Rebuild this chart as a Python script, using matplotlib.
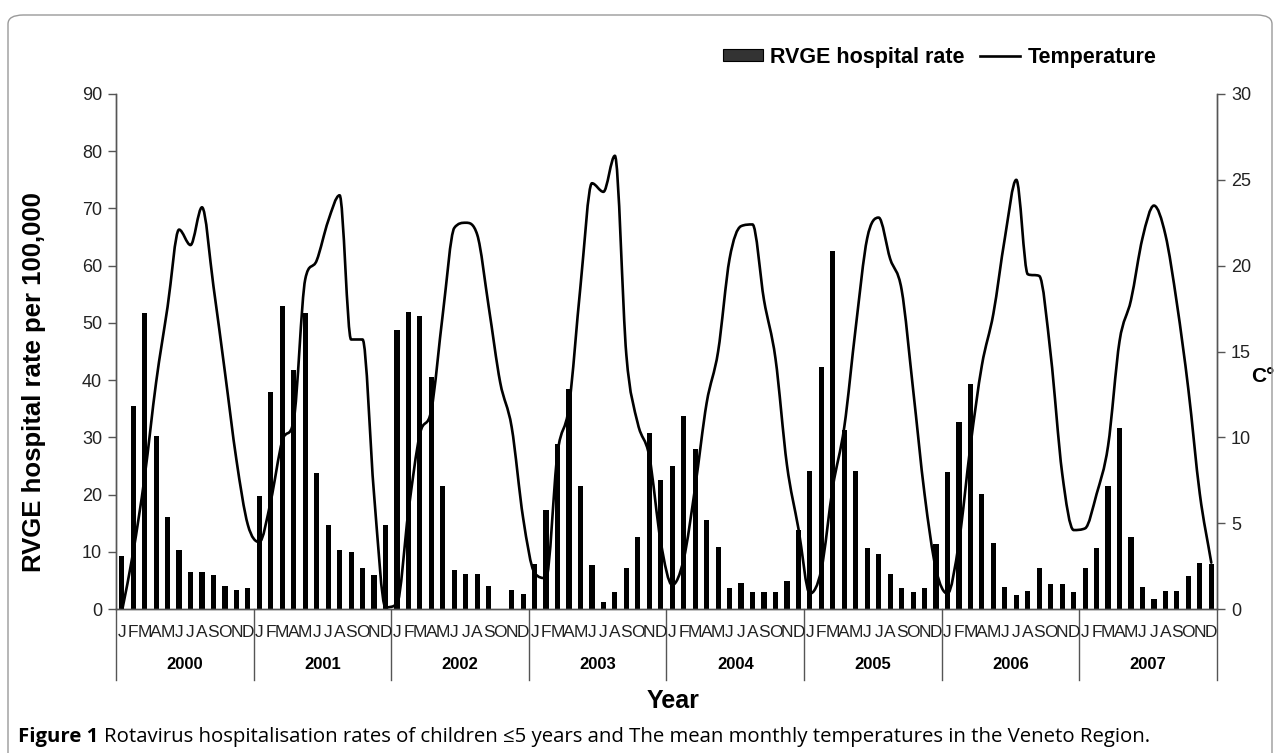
import numpy as np
import matplotlib.pyplot as plt
from matplotlib.path import Path
from matplotlib.patches import PathPatch, Patch, FancyBboxPatch
from matplotlib.lines import Line2D
from matplotlib.transforms import blended_transform_factory

plt.rcParams['font.family'] = ['Liberation Sans', 'DejaVu Sans']

years = ['2000', '2001', '2002', '2003', '2004', '2005', '2006', '2007']
months = ['J', 'F', 'M', 'A', 'M', 'J', 'J', 'A', 'S', 'O', 'N', 'D']

# RVGE hospital rate per 100,000 (monthly, 2000-2007)
rate_2000 = [9.2, 35.4, 51.7, 30.2, 16.1, 10.4, 6.5, 6.5, 6.0, 4.0, 3.3, 3.7]
rate_2001 = [19.8, 37.9, 53.0, 41.8, 51.7, 23.8, 14.6, 10.4, 9.9, 7.2, 6.0, 14.6]
rate_2002 = [48.7, 51.9, 51.2, 40.6, 21.5, 6.9, 6.2, 6.2, 4.0, 0.0, 3.3, 2.7]
rate_2003 = [7.9, 17.3, 28.8, 38.4, 21.5, 7.7, 1.3, 3.0, 7.2, 12.6, 30.7, 22.5]
rate_2004 = [25.0, 33.7, 28.0, 15.6, 10.9, 3.7, 4.5, 3.0, 3.0, 3.0, 4.9, 13.8]
rate_2005 = [24.2, 42.3, 62.6, 31.2, 24.2, 10.6, 9.7, 6.2, 3.7, 3.0, 3.7, 11.4]
rate_2006 = [24.0, 32.6, 39.3, 20.1, 11.6, 3.9, 2.4, 3.2, 7.1, 4.4, 4.4, 2.9]
rate_2007 = [7.1, 10.6, 21.5, 31.7, 12.6, 3.9, 1.7, 3.2, 3.2, 5.7, 8.1, 7.9]

# mean monthly temperature (C°)
temp_2000 = [-0.2, 3.3, 7.7, 13.2, 17.6, 22.1, 21.2, 23.4, 18.8, 13.8, 8.7, 4.9]
temp_2001 = [3.9, 6.3, 9.8, 11.0, 19.2, 20.3, 22.6, 24.1, 15.7, 15.7, 6.7, 0.1]
temp_2002 = [0.3, 5.7, 10.2, 11.6, 17.2, 22.2, 22.5, 21.8, 17.6, 13.2, 10.6, 5.3]
temp_2003 = [2.1, 1.8, 9.1, 11.8, 18.8, 24.8, 24.3, 26.4, 14.8, 10.8, 8.9, 3.9]
temp_2004 = [1.4, 2.9, 7.1, 12.0, 15.0, 20.4, 22.3, 22.4, 18.0, 14.6, 8.4, 4.7]
temp_2005 = [0.9, 2.3, 7.1, 10.6, 16.4, 21.6, 22.8, 20.4, 18.6, 12.8, 6.7, 2.3]
temp_2006 = [0.9, 3.9, 9.5, 14.2, 17.2, 21.6, 25.0, 19.5, 19.4, 14.8, 7.9, 4.6]
temp_2007 = [4.7, 6.7, 9.5, 15.6, 18.0, 21.6, 23.5, 21.8, 17.8, 12.8, 6.7, 2.7]

rate = np.array(rate_2000 + rate_2001 + rate_2002 + rate_2003 +
                rate_2004 + rate_2005 + rate_2006 + rate_2007)
temp = np.array(temp_2000 + temp_2001 + temp_2002 + temp_2003 +
                temp_2004 + temp_2005 + temp_2006 + temp_2007)

n = len(rate)
x = np.arange(n) + 0.5

fig = plt.figure(figsize=(12.8, 7.53), dpi=100)
ax = fig.add_axes([0.0906, 0.1912, 0.8602, 0.684])
ax2 = ax.twinx()

# bars
ax.bar(x, rate, width=0.45, color='black', zorder=2)
ax.set_xlim(0, n)
ax.set_ylim(0, 90)
ax.set_yticks(np.arange(0, 91, 10))
ax.set_xticks([])

# smoothed temperature line: cubic Bezier through the monthly points,
# tangents limited so flat stretches stay flat (no overshoot)
d = np.diff(temp)
m = np.zeros(n)
m[0], m[-1] = d[0], d[-1]
for i in range(1, n - 1):
    if d[i - 1] * d[i] > 0:
        m[i] = np.sign(d[i]) * min(abs(d[i - 1] + d[i]) / 2,
                                   3 * min(abs(d[i - 1]), abs(d[i])))
verts = [(x[0], temp[0])]
codes = [Path.MOVETO]
for i in range(n - 1):
    verts += [(x[i] + 1 / 3, temp[i] + m[i] / 3),
              (x[i + 1] - 1 / 3, temp[i + 1] - m[i + 1] / 3),
              (x[i + 1], temp[i + 1])]
    codes += [Path.CURVE4] * 3
ax2.add_patch(PathPatch(Path(verts, codes), fill=False, lw=1.9,
                        edgecolor='black', capstyle='round', joinstyle='round'))
ax2.set_ylim(0, 30)
ax2.set_yticks(np.arange(0, 31, 5))

for a in (ax, ax2):
    a.spines['top'].set_visible(False)
    for s in ('left', 'right', 'bottom'):
        a.spines[s].set_color('#555555')
        a.spines[s].set_linewidth(1.0)
    a.tick_params(axis='y', colors='#555555', labelcolor='#222222',
                  labelsize=13, length=6, width=1.0, pad=4)

ax.set_ylabel('RVGE hospital rate per 100,000', fontsize=18.5, fontweight='bold')
ax.yaxis.set_label_coords(-0.064, 0.44)
ax2.text(1.042, 0.452, 'C°', transform=ax2.transAxes, fontsize=15,
         fontweight='bold', ha='center', va='center')

# two-level category axis
tr = blended_transform_factory(ax.transData, ax.transAxes)
for i in range(n):
    ax.text(x[i], -0.045, months[i % 12], transform=tr, ha='center',
            va='center', fontsize=12.5, color='#222222')
for k, yr in enumerate(years):
    ax.text(12 * k + 6, -0.107, yr, transform=tr, ha='center', va='center',
            fontsize=12, fontweight='bold')
for k in range(len(years) + 1):
    ax.plot([12 * k, 12 * k], [0, -0.138], transform=tr, color='#555555',
            lw=1.0, clip_on=False)

fig.text(673 / 1280, 1 - 701 / 753, 'Year', ha='center', va='center',
         fontsize=18, fontweight='bold')

# legend
handles = [Patch(facecolor='#333333', edgecolor='black', lw=0.8),
           Line2D([], [], color='black', lw=1.9)]
fig.legend(handles, ['RVGE hospital rate', 'Temperature'], ncol=2,
           loc='center left', bbox_to_anchor=(723 / 1280, 1 - 57 / 753),
           frameon=False, borderpad=0, borderaxespad=0,
           prop={'weight': 'bold', 'size': 15.5},
           handlelength=1.85, handleheight=0.45, handletextpad=0.35,
           columnspacing=0.7)

# caption
cap_font = ['Open Sans', 'DejaVu Sans']
t1 = fig.text(18 / 1280, 1 - 737 / 753, 'Figure 1', fontsize=14.65,
              fontweight='bold', family=cap_font, ha='left', va='center')
fig.canvas.draw()
bb = t1.get_window_extent()
fig.text(bb.x1 / 1280 + 6 / 1280, 1 - 737 / 753,
         'Rotavirus hospitalisation rates of children ≤5 years and The mean '
         'monthly temperatures in the Veneto Region.',
         fontsize=14.65, family=cap_font, ha='left', va='center')

# outer frame
fig.patches.append(FancyBboxPatch((8 / 1280, -0.05), 1264 / 1280, 1.05 - 15 / 753,
                                  boxstyle='round,pad=0,rounding_size=0.012',
                                  transform=fig.transFigure, fill=False,
                                  edgecolor='#9a9a9a', lw=1.0))

fig.savefig('out.png', dpi=100)
